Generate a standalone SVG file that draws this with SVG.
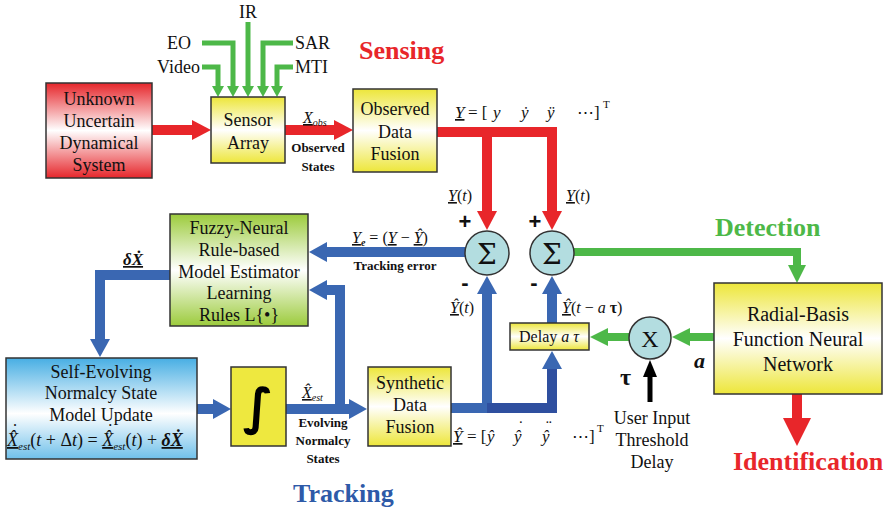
<svg xmlns="http://www.w3.org/2000/svg" width="888" height="514" viewBox="0 0 888 514">
<style>
.t{font-family:"Liberation Serif","Times New Roman",serif;font-size:18px;fill:#111;text-anchor:middle}
.l{font-family:"Liberation Serif","Times New Roman",serif;font-size:17px;fill:#111}
.i{font-style:italic}
.b{font-family:"Liberation Serif","Times New Roman",serif;font-weight:bold;font-size:13px;fill:#111;text-anchor:middle}
.h{font-family:"Liberation Serif","Times New Roman",serif;font-weight:bold;font-size:26px}
.box{stroke:#333;stroke-width:1.5}
.red{fill:none;stroke:#E8262A;stroke-width:10}
.grn{fill:none;stroke:#4DB848;stroke-width:5}
.grn2{fill:none;stroke:#4DB848;stroke-width:8}
.blu{fill:none;stroke:#3A67B2;stroke-width:10}
.blk{fill:none;stroke:#000;stroke-width:5}
.sig{fill:#B3DDE0;stroke:#333;stroke-width:1.5}
.pm{font-family:"Liberation Sans",Arial,sans-serif;font-weight:bold;font-size:22px;fill:#111;text-anchor:middle}
.m{font-family:"Liberation Serif","Times New Roman",serif;font-size:17px;fill:#111;font-style:italic}
.u{text-decoration:underline}
.sub{font-size:11px}
.sup{font-size:11px}
.st{text-anchor:start}
.en{text-anchor:end}
</style>
<defs>
<linearGradient id="gR" x1="0" y1="0" x2="0" y2="1"><stop offset="0" stop-color="#E6262B"/><stop offset="0.5" stop-color="#fff"/><stop offset="1" stop-color="#E6262B"/></linearGradient>
<linearGradient id="gY" x1="0" y1="0" x2="0" y2="1"><stop offset="0" stop-color="#EDE63A"/><stop offset="0.5" stop-color="#fff"/><stop offset="1" stop-color="#EDE63A"/></linearGradient>
<linearGradient id="gG" x1="0" y1="0" x2="0" y2="1"><stop offset="0" stop-color="#9CCB3C"/><stop offset="0.5" stop-color="#fff"/><stop offset="1" stop-color="#9CCB3C"/></linearGradient>
<linearGradient id="gB" x1="0" y1="0" x2="0" y2="1"><stop offset="0" stop-color="#47AEE3"/><stop offset="0.55" stop-color="#fff"/><stop offset="1" stop-color="#6FC0EA"/></linearGradient>
<marker id="hR" markerUnits="userSpaceOnUse" markerWidth="20" markerHeight="22" refX="1" refY="11" orient="auto"><path d="M0,1 L19,11 L0,21 z" fill="#E8262A"/></marker>
<marker id="hRb" markerUnits="userSpaceOnUse" markerWidth="30" markerHeight="30" refX="1" refY="14" orient="auto"><path d="M0,0 L28,14 L0,28 z" fill="#E8262A"/></marker>
<marker id="hG" markerUnits="userSpaceOnUse" markerWidth="12" markerHeight="14" refX="1" refY="7" orient="auto"><path d="M0,1 L11,7 L0,13 z" fill="#4DB848"/></marker>
<marker id="hG2" markerUnits="userSpaceOnUse" markerWidth="20" markerHeight="22" refX="1" refY="10" orient="auto"><path d="M0,1 L18,10 L0,19 z" fill="#4DB848"/></marker>
<marker id="hB" markerUnits="userSpaceOnUse" markerWidth="20" markerHeight="22" refX="1" refY="11" orient="auto"><path d="M0,1 L18,11 L0,21 z" fill="#3A67B2"/></marker>
<marker id="hK" markerUnits="userSpaceOnUse" markerWidth="18" markerHeight="16" refX="1" refY="7" orient="auto"><path d="M0,0 L17,7 L0,14 z" fill="#000"/></marker>
</defs>
<rect width="888" height="514" fill="#fff"/>

<g id="connectors">
<path class="red" d="M152,130 H193" marker-end="url(#hR)"/>
<path class="red" d="M285,130 H335" marker-end="url(#hR)"/>
<path class="red" d="M437,132 H552 V212" marker-end="url(#hR)"/>
<path class="red" d="M487,132 V212" marker-end="url(#hR)"/>
<path class="red" d="M797,394 V419" marker-end="url(#hRb)"/>
<path class="grn" d="M202,43 H233 V87" marker-end="url(#hG)"/>
<path class="grn" d="M202,67 H218 V87" marker-end="url(#hG)"/>
<path class="grn" d="M248,22 V87" marker-end="url(#hG)"/>
<path class="grn" d="M293,43 H263 V87" marker-end="url(#hG)"/>
<path class="grn" d="M293,67 H277 V87" marker-end="url(#hG)"/>
<path class="grn2" d="M574,252 H797 V266" marker-end="url(#hG2)"/>
<path class="grn2" d="M714,337 H689" marker-end="url(#hG2)"/>
<path class="grn2" d="M629,337 H607" marker-end="url(#hG2)"/>
<path class="blu" d="M465,252 H326" marker-end="url(#hB)"/>
<path class="blu" d="M340,409 V290 H326" marker-end="url(#hB)"/>
<path class="blu" d="M170,275 H100 V340" marker-end="url(#hB)"/>
<path class="blu" d="M197,409 H214" marker-end="url(#hB)"/>
<path class="blu" d="M286,409 H350" marker-end="url(#hB)"/>
<path class="blu" d="M451,408 H487 V293" marker-end="url(#hB)"/>
<path class="blu" style="stroke:#2F4F9F" d="M487,408 H552 V368" marker-end="url(#hB)"/>
<path class="blu" d="M552,323 V293" marker-end="url(#hB)"/>
<path class="blk" d="M650,402 V376" marker-end="url(#hK)"/>
</g>

<g id="unknown"><rect class="box" x="46" y="83" width="106" height="95" fill="url(#gR)"/>
<text class="t" x="99" y="105">Unknown</text><text class="t" x="99" y="127">Uncertain</text><text class="t" x="99" y="149">Dynamical</text><text class="t" x="99" y="171">System</text></g>

<g id="sensor"><rect class="box" x="211" y="97" width="74" height="66" fill="url(#gY)"/>
<text class="t" x="248" y="126">Sensor</text><text class="t" x="248" y="149">Array</text></g>

<g id="inputs">
<text class="t" x="248" y="18">IR</text>
<text class="t en" x="191" y="49">EO</text>
<text class="t en" x="200" y="73">Video</text>
<text class="t st" x="295" y="49">SAR</text>
<text class="t st" x="295" y="73">MTI</text>
</g>

<g id="observed"><rect class="box" x="353" y="89" width="84" height="83" fill="url(#gY)"/>
<text class="t" x="395" y="115">Observed</text><text class="t" x="395" y="138">Data</text><text class="t" x="395" y="160">Fusion</text></g>

<g id="fuzzy"><rect class="box" x="170" y="214" width="138" height="112" fill="url(#gG)"/>
<text class="t" x="239" y="234">Fuzzy-Neural</text><text class="t" x="239" y="256">Rule-based</text><text class="t" x="239" y="278">Model Estimator</text><text class="t" x="239" y="299">Learning</text><text class="t" x="239" y="321">Rules L{•}</text></g>

<g id="selfevolving"><rect class="box" x="6" y="358" width="191" height="101" fill="url(#gB)"/>
<text class="t" x="101" y="378">Self-Evolving</text><text class="t" x="101" y="399">Normalcy State</text><text class="t" x="101" y="421">Model Update</text>
<text class="l" x="7" y="446" style="font-size:18px"><tspan class="i u">X̂</tspan><tspan dx="-6" dy="-9">˙</tspan><tspan class="i" font-size="11" dx="0" dy="13">est</tspan><tspan dy="-4">(</tspan><tspan class="i">t</tspan> + Δ<tspan class="i">t</tspan>) = <tspan class="i u">X̂</tspan><tspan dx="-6" dy="-9">˙</tspan><tspan class="i" font-size="11" dx="0" dy="13">est</tspan><tspan dy="-4">(</tspan><tspan class="i">t</tspan>) + <tspan class="i u" font-weight="bold">δẊ</tspan></text>
</g>

<g id="integral"><rect class="box" x="231" y="367" width="55" height="79" fill="#EEE83F"/>
<text x="258" y="424" text-anchor="middle" font-family="DejaVu Sans,sans-serif" font-weight="bold" font-size="50" fill="#000">∫</text></g>

<g id="synthetic"><rect class="box" x="368" y="367" width="83" height="79" fill="url(#gY)"/>
<text class="t" x="410" y="389">Synthetic</text><text class="t" x="410" y="411">Data</text><text class="t" x="410" y="433">Fusion</text></g>

<g id="sum1"><circle class="sig" cx="487" cy="253" r="22"/><text x="487" y="264" text-anchor="middle" font-family="DejaVu Serif,serif" font-size="28" fill="#111">Σ</text></g>
<g id="sum2"><circle class="sig" cx="552" cy="253" r="22"/><text x="552" y="264" text-anchor="middle" font-family="DejaVu Serif,serif" font-size="28" fill="#111">Σ</text></g>
<g id="mult"><circle class="sig" cx="650" cy="338" r="21"/><text x="650" y="347" text-anchor="middle" font-family="Liberation Serif,serif" font-size="24" fill="#111">X</text></g>

<g id="delay"><rect class="box" x="510" y="323" width="79" height="27" fill="url(#gY)"/>
<text class="l" x="549" y="342" text-anchor="middle" style="font-size:16px">Delay <tspan class="i">a τ</tspan></text></g>

<g id="rbf"><rect class="box" x="714" y="283" width="168" height="111" fill="url(#gY)"/>
<text class="t" x="798" y="321" style="font-size:20px">Radial-Basis</text><text class="t" x="798" y="346" style="font-size:20px">Function Neural</text><text class="t" x="798" y="371" style="font-size:20px">Network</text></g>

<g id="labels">
<text class="h" x="359" y="59" fill="#E8262A">Sensing</text>
<text class="h" x="715" y="236" fill="#4DB848">Detection</text>
<text class="h" x="293" y="502" fill="#2E5AA8">Tracking</text>
<text class="h" x="733" y="470" fill="#E8262A">Identification</text>

<text class="m" x="303" y="123" style="font-size:16px"><tspan class="u">X</tspan><tspan font-size="10" dy="3">obs</tspan></text>
<text class="b" x="318" y="152">Observed</text><text class="b" x="318" y="171">States</text>

<text class="m u" x="455" y="118">Y</text>
<text class="l" x="468" y="118">= [</text>
<text class="m" x="493" y="118">y</text>
<text class="m" x="521" y="118">ẏ</text>
<text class="m" x="547" y="118">ÿ</text>
<text class="l" x="577" y="118">⋯]</text>
<text class="l sup" x="603" y="108">T</text>

<text class="l" x="448" y="201" style="font-size:16px"><tspan class="i u">Y</tspan>(<tspan class="i">t</tspan>)</text>
<text class="l" x="566" y="201" style="font-size:16px"><tspan class="i u">Y</tspan>(<tspan class="i">t</tspan>)</text>
<text class="pm" x="465" y="229">+</text><text class="pm" x="535" y="229">+</text>
<text class="pm" x="465" y="290">-</text><text class="pm" x="534" y="290">-</text>

<text class="l" x="352" y="243" style="font-size:16px"><tspan class="i u">Y</tspan><tspan class="i" font-weight="bold" font-size="10" dy="3">e</tspan><tspan dy="-3"> = (</tspan><tspan class="i u">Y</tspan> − <tspan class="i u">Ŷ</tspan>)</text>
<text class="b" x="395" y="270">Tracking error</text>
<text class="m u" x="123" y="265" style="font-weight:bold">δẊ</text>

<text class="l" x="450" y="313" style="font-size:16px"><tspan class="i u">Ŷ</tspan>(<tspan class="i">t</tspan>)</text>
<text class="l" x="562" y="313" style="font-size:16px"><tspan class="i u">Ŷ</tspan>(<tspan class="i">t</tspan> − <tspan class="i">a</tspan> <tspan font-weight="bold">τ</tspan>)</text>

<text class="m" x="302" y="398" style="font-size:16px"><tspan class="u">X̂</tspan><tspan font-size="10" dy="3">est</tspan></text>
<text class="b" x="323" y="427">Evolving</text><text class="b" x="323" y="445">Normalcy</text><text class="b" x="323" y="463">States</text>

<text class="m u" x="453" y="442">Ŷ</text>
<text class="l" x="467" y="442">= [</text>
<text class="m" x="487" y="442">ŷ</text>
<text class="m" x="514" y="442">ŷ<tspan font-style="normal" dx="-3.5" dy="-10">˙</tspan></text>
<text class="m" x="542" y="442">ŷ<tspan font-style="normal" dx="-3.5" dy="-10">¨</tspan></text>
<text class="l" x="572" y="442">⋯]</text>
<text class="l sup" x="597" y="432">T</text>

<text class="m" x="694" y="368" style="font-size:22px;font-weight:bold">a</text>
<text class="l" x="620" y="385" style="font-size:24px;font-weight:bold">τ</text>
<text class="t" x="652" y="424">User Input</text><text class="t" x="652" y="446">Threshold</text><text class="t" x="652" y="468">Delay</text>
</g>
</svg>
